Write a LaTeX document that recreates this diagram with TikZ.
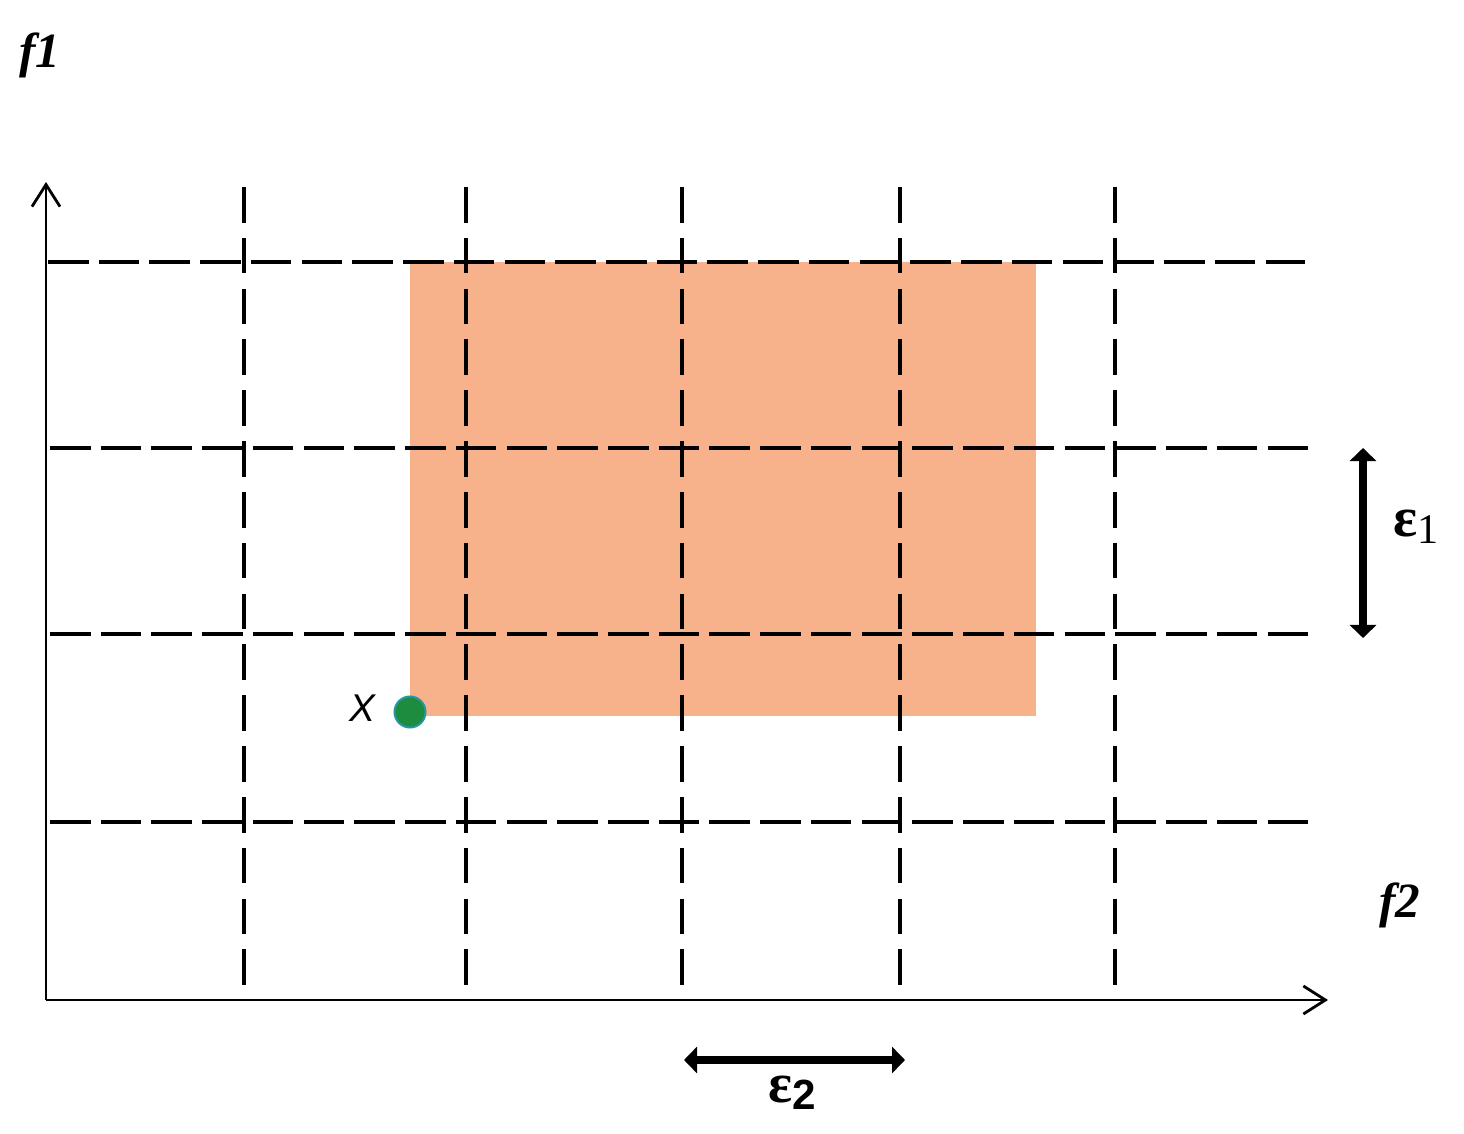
\documentclass[tikz,border=0pt]{standalone}
\usepackage{fontspec}
\setmainfont{Liberation Serif}
\setsansfont{Liberation Sans}
\usetikzlibrary{arrows.meta}
\definecolor{regionc}{RGB}{247,178,140}
\definecolor{dotc}{RGB}{30,140,62}
\definecolor{dotedge}{RGB}{40,150,160}
\tikzset{
  gridv/.style={line width=0.04cm, dash pattern=on 0.356cm off 0.152cm},
  gridh/.style={line width=0.04cm, dash pattern=on 0.405cm off 0.102cm},
  axis/.style={line width=0.028cm, -{Straight Barb[length=0.22cm,width=0.28cm,line width=0.028cm]}},
  eps/.style={line width=0.08cm, {Triangle[width=0.26cm,length=0.13cm]}-{Triangle[width=0.26cm,length=0.13cm]}},
  lbl/.style={inner sep=0pt},
}
\begin{document}
\begin{tikzpicture}[x=0.01cm,y=-0.01cm]
\useasboundingbox (0,0) rectangle (1464,1134);
% shaded region
\fill[regionc] (410,262) rectangle (1036,716);
% vertical dashed lines
\foreach \x in {244,466,682,900,1115}
  \draw[gridv] (\x,187) -- (\x,985);
% horizontal dashed lines
\draw[gridh] (48,262) -- (1305,262);
\foreach \y in {448,634,822}
  \draw[gridh] (50,\y) -- (1312,\y);
% axes
\coordinate (O) at (46,1000);
\coordinate (Ytop) at (46,182);
\coordinate (Xend) at (1328,1000);
\draw[axis] (O) -- (Ytop);
\draw[axis] (O) -- (Xend);
% labels
\node[lbl] (f1) at (40,55) {\fontsize{14}{14}\selectfont\bfseries\itshape f1};
\node[lbl] (f2) at (1400,905) {\fontsize{14}{14}\selectfont\bfseries\itshape f2};
% point X
\node[circle, fill=dotc, draw=dotedge, line width=0.02cm, minimum size=0.31cm, inner sep=0pt] (X) at (410,712) {};
\node[lbl] (Xl) at (362,708) {\fontsize{11}{11}\selectfont\sffamily\itshape X};
% epsilon arrows
\coordinate (e1a) at (1363,448);
\coordinate (e1b) at (1363,638);
\draw[eps] (e1a) -- (e1b);
\node[lbl] (e1) at (1416,527) {\fontsize{16}{16}\selectfont\bfseries ε\raisebox{-0.12em}{\fontsize{12}{12}\selectfont\mdseries 1}};
\coordinate (e2a) at (684,1060);
\coordinate (e2b) at (905,1060);
\draw[eps] (e2a) -- (e2b);
\node[lbl] (e2) at (792,1093) {\fontsize{16}{16}\selectfont\bfseries ε\raisebox{-0.12em}{\fontsize{12}{12}\selectfont\sffamily 2}};
\end{tikzpicture}
\end{document}
